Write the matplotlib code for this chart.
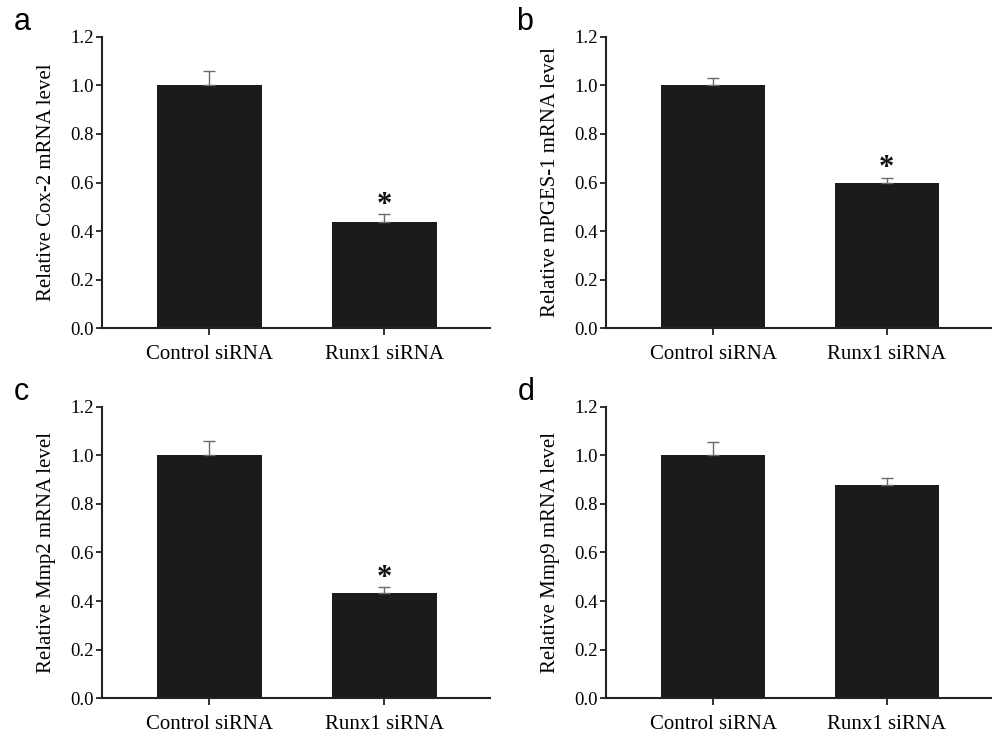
import matplotlib
matplotlib.use("Agg")
import matplotlib.pyplot as plt

plt.rcParams["font.family"] = ["Liberation Serif", "DejaVu Serif"]

groups = ["Control siRNA", "Runx1 siRNA"]
panels = ["a", "b", "c", "d"]
ylabels = ["Relative Cox-2 mRNA level", "Relative mPGES-1 mRNA level",
           "Relative Mmp2 mRNA level", "Relative Mmp9 mRNA level"]
means = [[1.0, 0.437], [1.0, 0.598], [1.0, 0.433], [1.0, 0.878]]
errors = [[0.06, 0.032], [0.03, 0.022], [0.058, 0.024], [0.055, 0.03]]
signif = [[False, True], [False, True], [False, True], [False, False]]

bar_color = "#1b1b1b"
axis_color = "#222222"
err_color = "#6a6a6a"

fig = plt.figure(figsize=(9.92, 7.35), dpi=100)

# axes boxes in figure fractions (left, bottom, width, height)
boxes = [
    (0.1028, 0.5537, 0.391, 0.396),
    (0.611, 0.5537, 0.389, 0.396),
    (0.1028, 0.0503, 0.391, 0.396),
    (0.611, 0.0503, 0.389, 0.396),
]
letter_pos = [(0.014, 0.97), (0.520, 0.97), (0.014, 0.467), (0.522, 0.467)]

x = [0, 1]
for i in range(4):
    ax = fig.add_axes(boxes[i])
    ax.bar(x, means[i], width=0.6, color=bar_color, zorder=2)
    ax.errorbar(x, means[i], yerr=[[0, 0], errors[i]], fmt="none",
                ecolor=err_color, elinewidth=1.0, capsize=4, capthick=1.0, zorder=3)
    for j in range(2):
        if signif[i][j]:
            ax.text(x[j], means[i][j] + errors[i][j] - 0.022, "*", ha="center",
                    va="bottom", fontsize=22, fontweight="bold", color="#111111")
    ax.set_xlim(-0.615, 1.605)
    ax.set_ylim(0, 1.2)
    ax.set_yticks([0, 0.2, 0.4, 0.6, 0.8, 1.0, 1.2])
    ax.set_yticklabels(["0.0", "0.2", "0.4", "0.6", "0.8", "1.0", "1.2"])
    ax.set_xticks(x)
    ax.set_xticklabels(groups, fontsize=15)
    ax.tick_params(axis="y", labelsize=13.5, length=4, width=1.3, color=axis_color, pad=2)
    ax.tick_params(axis="x", length=5, width=1.3, color=axis_color, pad=7)
    ax.spines["top"].set_visible(False)
    ax.spines["right"].set_visible(False)
    ax.spines["left"].set_linewidth(1.5)
    ax.spines["bottom"].set_linewidth(1.5)
    ax.spines["left"].set_color(axis_color)
    ax.spines["bottom"].set_color(axis_color)
    ax.set_ylabel(ylabels[i], fontsize=15, labelpad=10)
    fig.text(letter_pos[i][0], letter_pos[i][1], panels[i], fontsize=22,
             family=["Liberation Sans", "DejaVu Sans"], ha="left", va="center")

fig.savefig("out.png", dpi=100)
